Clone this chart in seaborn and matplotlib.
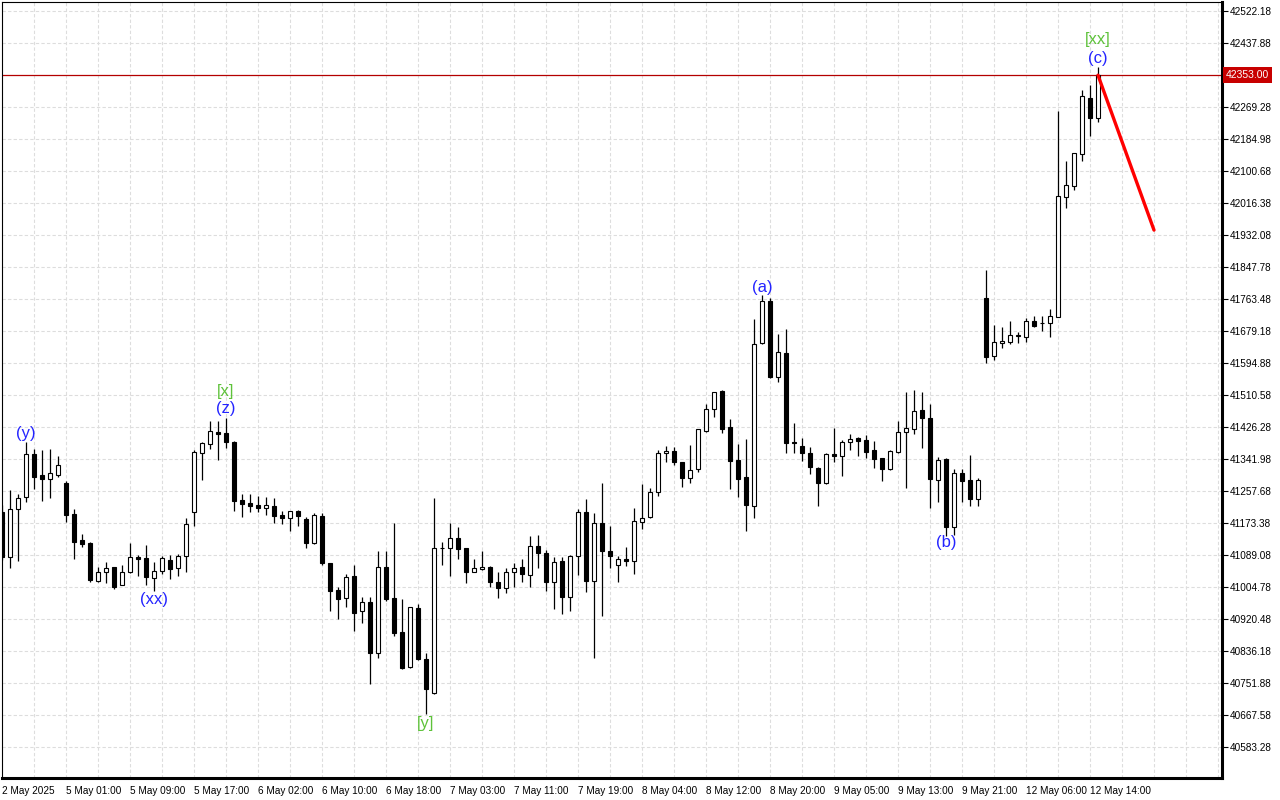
import numpy as np
import pandas as pd
import matplotlib
matplotlib.use('Agg')
import matplotlib.pyplot as plt
import matplotlib.transforms as mtransforms
from matplotlib.ticker import FixedLocator, MultipleLocator
import seaborn as sns


# hourly candles (bar 0 = 2 May 2025)
opens = [41202, 41084, 41209, 41242, 41355, 41300, 41289, 41301, 41278, 41196,
         41128, 41121, 41021, 41045, 41057, 41010, 41043, 41083, 41081, 41028,
         41047, 41075, 41054, 41086, 41203, 41357, 41381, 41412, 41410, 41387,
         41234, 41225, 41221, 41212, 41218, 41195, 41186, 41205, 41183, 41122,
         41192, 41067, 40997, 40975, 41035, 40941, 40964, 40832, 41057, 40975,
         40885, 40795, 40949, 40814, 40725, 41107, 41107, 41133, 41107, 41044,
         41052, 41057, 41018, 41001, 41044, 41057, 41036, 41114, 41094, 41018,
         41073, 40979, 41087, 41202, 41021, 41173, 41099, 41062, 41078, 41073,
         41177, 41190, 41256, 41357, 41362, 41334, 41291, 41315, 41417, 41473,
         41521, 41425, 41339, 41294, 41219, 41647, 41758, 41557, 41620, 41386,
         41376, 41357, 41318, 41280, 41355, 41351, 41388, 41397, 41392, 41366,
         41344, 41316, 41360, 41412, 41420, 41471, 41449, 41287, 41342, 41163,
         41304, 41287, 41237, 41765, 41614, 41647, 41651, 41666, 41664, 41706,
         41700, 41700, 41717, 42033, 42062, 42145, 42293, 42240]

highs = [41221, 41260, 41249, 41388, 41368, 41366, 41368, 41350, 41284, 41210,
         41144, 41123, 41058, 41070, 41058, 41063, 41120, 41089, 41115, 41071,
         41087, 41089, 41092, 41186, 41366, 41388, 41441, 41443, 41449, 41390,
         41250, 41250, 41245, 41243, 41239, 41205, 41205, 41208, 41190, 41199,
         41201, 41068, 41006, 41039, 41063, 40979, 40979, 41100, 41100, 41173,
         40973, 40952, 40960, 40830, 41239, 41123, 41173, 41162, 41108, 41079,
         41100, 41060, 41044, 41054, 41067, 41078, 41139, 41142, 41102, 41083,
         41083, 41089, 41209, 41237, 41199, 41278, 41165, 41087, 41109, 41212,
         41276, 41265, 41366, 41376, 41373, 41335, 41379, 41421, 41487, 41519,
         41524, 41447, 41382, 41395, 41710, 41774, 41765, 41671, 41685, 41437,
         41397, 41373, 41322, 41357, 41423, 41392, 41408, 41401, 41405, 41389,
         41345, 41366, 41442, 41519, 41524, 41518, 41487, 41348, 41344, 41315,
         41315, 41353, 41291, 41840, 41695, 41691, 41706, 41677, 41713, 41720,
         41719, 41737, 42260, 42127, 42148, 42314, 42327, 42375]

lows = [41076, 41055, 41072, 41230, 41263, 41232, 41239, 41295, 41177, 41079,
        41111, 41019, 41019, 41014, 41000, 41009, 41042, 41034, 41011, 40995,
        41038, 41025, 41035, 41043, 41166, 41287, 41369, 41339, 41372, 41206,
        41190, 41203, 41203, 41195, 41174, 41170, 41153, 41166, 41107, 41117,
        41062, 40942, 40920, 40953, 40890, 40911, 40749, 40817, 40969, 40876,
        40789, 40792, 40812, 40669, 40724, 41063, 41035, 41079, 41014, 41043,
        41050, 41006, 40977, 40990, 41006, 41019, 41006, 41056, 40995, 40946,
        40933, 40942, 41037, 40991, 40819, 40929, 41054, 41019, 41060, 41039,
        41158, 41187, 41245, 41335, 41327, 41269, 41280, 41309, 41412, 41453,
        41410, 41263, 41243, 41153, 41186, 41644, 41555, 41546, 41358, 41358,
        41338, 41302, 41219, 41275, 41334, 41298, 41366, 41350, 41345, 41318,
        41284, 41313, 41357, 41266, 41408, 41370, 41214, 41230, 41139, 41143,
        41230, 41218, 41218, 41594, 41603, 41634, 41645, 41648, 41651, 41691,
        41680, 41664, 41716, 42004, 42051, 42128, 42194, 42231]

closes = [41084, 41210, 41239, 41355, 41295, 41289, 41304, 41325, 41195, 41123,
          41119, 41023, 41045, 41056, 41006, 41043, 41083, 41079, 41030, 41048,
          41081, 41052, 41086, 41170, 41360, 41385, 41415, 41407, 41386, 41232,
          41223, 41219, 41212, 41221, 41193, 41186, 41204, 41192, 41122, 41195,
          41069, 40995, 40974, 41032, 40937, 40964, 40832, 41057, 40973, 40884,
          40792, 40951, 40815, 40737, 41107, 41108, 41133, 41104, 41043, 41054,
          41057, 41017, 41001, 41044, 41056, 41038, 41114, 41094, 41018, 41070,
          40979, 41087, 41202, 41021, 41173, 41100, 41087, 41078, 41072, 41178,
          41187, 41254, 41357, 41362, 41335, 41293, 41313, 41420, 41473, 41518,
          41421, 41338, 41290, 41222, 41644, 41758, 41559, 41623, 41384, 41385,
          41357, 41320, 41280, 41354, 41351, 41386, 41394, 41390, 41361, 41342,
          41316, 41363, 41412, 41423, 41468, 41451, 41289, 41339, 41163, 41304,
          41285, 41237, 41287, 41611, 41649, 41653, 41669, 41668, 41706, 41693,
          41699, 41719, 42035, 42064, 42147, 42298, 42241, 42353]

# x axis labels, one every 8 bars
time_labels = ['2 May 2025', '5 May 01:00', '5 May 09:00', '5 May 17:00',
               '6 May 02:00', '6 May 10:00', '6 May 18:00', '7 May 03:00',
               '7 May 11:00', '7 May 19:00', '8 May 04:00', '8 May 12:00',
               '8 May 20:00', '9 May 05:00', '9 May 13:00', '9 May 21:00',
               '12 May 06:00', '12 May 14:00']

price_ticks = [40583.28, 40667.58, 40751.88, 40836.18, 40920.48, 41004.78,
               41089.08, 41173.38, 41257.68, 41341.98, 41426.28, 41510.58,
               41594.88, 41679.18, 41763.48, 41847.78, 41932.08, 42016.38,
               42100.68, 42184.98, 42269.28, 42437.88, 42522.18]

last_price = 42353.00

# forecast line
proj_bar = [137, 144]
proj_price = [42353, 41945]

# wave marks
wave_text = ['(y)', '(xx)', '[x]', '(z)', '[y]', '(a)', '(b)', '[xx]', '(c)']
wave_bar = [3, 19, 28, 28, 53, 95, 118, 137, 137]
wave_price = [41410, 40971, 41521, 41474, 40646, 41795, 41121, 42448, 42396]


df = pd.DataFrame({'open': opens, 'high': highs, 'low': lows, 'close': closes})
df['bar'] = np.arange(len(df))
df['up'] = df['close'] >= df['open']

sns.set_theme(style='whitegrid')
plt.rcParams['font.family'] = ['Liberation Sans', 'DejaVu Sans']

fig = plt.figure(figsize=(12.8, 8), dpi=100)
ax = fig.add_axes([2 / 1280, 22 / 800, 1220 / 1280, 776 / 800])
ax.set_facecolor('white')

# current price line
ax.axhline(last_price, color='#b40000', lw=0.9, zorder=1)

# wicks then bodies
ax.vlines(df['bar'], df['low'], df['high'], color='black', lw=0.9, zorder=2)
body_bottom = np.minimum(df['open'], df['close'])
body_height = (df['close'] - df['open']).abs()
ax.bar(df['bar'], body_height, bottom=body_bottom, width=0.62,
       color=np.where(df['up'], 'white', 'black'), edgecolor='black',
       linewidth=0.8, zorder=3)

# red forecast
sns.lineplot(x=proj_bar, y=proj_price, color='#ff0000', lw=2.4, ax=ax, zorder=4)

# wave labels
for txt, b, p in zip(wave_text, wave_bar, wave_price):
    col = '#5ec23a' if txt.startswith('[') else '#2424ff'
    ax.text(b, p, txt, color=col, fontsize=12, ha='center', va='center', zorder=5)

ax.set_xlim(0, 152.5)
ax.set_ylim(40501.6, 42545.9)

# axes: prices on the right, dates at the bottom
ax.yaxis.tick_right()
ax.yaxis.set_major_locator(FixedLocator(price_ticks))
ax.set_yticklabels([f'{v:.2f}' for v in price_ticks])
ax.xaxis.set_major_locator(FixedLocator(np.arange(0, 137, 8)))
ax.set_xticklabels(time_labels, ha='left')
ax.xaxis.set_minor_locator(MultipleLocator(4))
ax.tick_params(axis='both', which='major', labelsize=7.2, colors='black',
               length=4, width=0.8, direction='out', pad=1.5)
ax.tick_params(axis='x', which='minor', length=0)
ax.set_xlabel('')
ax.set_ylabel('')

ax.grid(True, which='both', color='#dddddd', linestyle=(0, (3, 2)), lw=0.8)
ax.set_axisbelow(True)

for side, w in [('left', 0.8), ('top', 0.8), ('right', 2.2), ('bottom', 2.2)]:
    ax.spines[side].set_visible(True)
    ax.spines[side].set_color('black')
    ax.spines[side].set_linewidth(w)

# price tag on the axis
trans = mtransforms.blended_transform_factory(ax.transAxes, ax.transData)
ax.text(1.003, last_price, f'{last_price:.2f}', transform=trans, color='white',
        fontsize=7.5, va='center', ha='left',
        bbox=dict(facecolor='#c80000', edgecolor='none', pad=2), zorder=6)

fig.savefig('out.png', dpi=100, facecolor='white')
